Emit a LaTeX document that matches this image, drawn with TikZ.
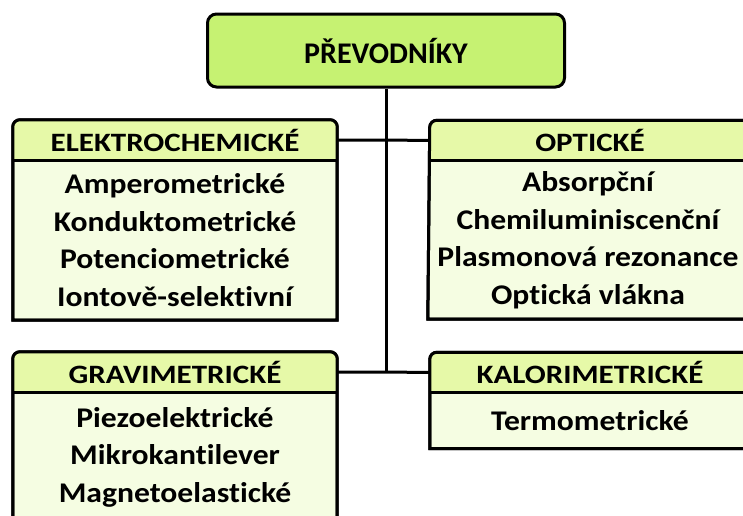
\documentclass[tikz,border=0pt]{standalone}
\usepackage{fontspec}
\setmainfont{Carlito}[RawFeature=-liga]
\newfontfamily\titlefont{Carlito}[RawFeature=-liga]
\newfontfamily\headfont{Carlito}[FakeStretch=1.17, RawFeature=-liga]
\newfontfamily\itemfont{Carlito}[FakeStretch=1.11, RawFeature=-liga]
\pgfdeclarelayer{bg}
\pgfsetlayers{bg,main}
\definecolor{rootfill}{RGB}{198,242,114}
\definecolor{headfill}{RGB}{230,249,168}
\definecolor{bodyfill}{RGB}{245,253,226}
\tikzset{
  frame/.style={draw=black, line width=3pt},
  link/.style={draw=black, line width=3pt},
  rootbox/.style={frame, fill=rootfill, rounded corners=9pt, minimum width=357pt,
    minimum height=73pt, font=\titlefont\bfseries\fontsize{30}{36}\selectfont},
  headbox/.style={inner sep=0pt, minimum height=40pt, font=\headfont\bfseries\fontsize{26.5}{31}\selectfont},
  bodybox/.style={inner sep=0pt, align=center, font=\itemfont\bfseries\fontsize{28.5}{37.5}\selectfont},
}
% frame of a category: header node #1, body node #2
\newcommand\catframe[2]{%
  \begin{pgfonlayer}{bg}
    \filldraw[frame, fill=bodyfill] (#2.south west) [rounded corners=7pt] -- (#1.north west)
      -- (#1.north east) [sharp corners] -- (#2.south east) -- cycle;
    \fill[headfill] (#1.south west) [rounded corners=7pt] -- (#1.north west)
      -- (#1.north east) [sharp corners] -- (#1.south east) -- cycle;
    \draw[frame] (#2.south west) [rounded corners=7pt] -- (#1.north west)
      -- (#1.north east) [sharp corners] -- (#2.south east) -- cycle;
    \draw[frame] (#1.south west) -- (#1.south east);
  \end{pgfonlayer}}
\begin{document}
\begin{tikzpicture}[x=1pt, y=-1pt]
\useasboundingbox (0,0) rectangle (743,515);
\clip (0,0) rectangle (743,515);

\node[rootbox] (root) at (386,50.5) {PŘEVODNÍKY};

% electrochemical
\node[headbox, minimum width=324pt] (elh) at (175,140) {ELEKTROCHEMICKÉ};
\node[bodybox, minimum width=324pt, minimum height=160pt] (elb) at (175,240)
  {Amperometrické\\Konduktometrické\\Potenciometrické\\Iontově-selektivní};
\catframe{elh}{elb}

% optical
\node[headbox, minimum width=320pt] (oph) at (590,140.5) {OPTICKÉ};
\node[bodybox, minimum width=320pt, minimum height=158pt] (opb) at (588,240)
  {Absorpční\\Chemiluminiscenční\\Plasmonová rezonance\\Optická vlákna};
\catframe{oph}{opb}

% gravimetric
\node[headbox, minimum width=324pt] (grh) at (175,372) {GRAVIMETRICKÉ};
\node[bodybox, minimum width=324pt, minimum height=130pt] (grb) at (175,457)
  {Piezoelektrické\\Mikrokantilever\\Magnetoelastické};
\catframe{grh}{grb}

% calorimetric
\node[headbox, minimum width=320pt] (kah) at (590,372.5) {KALORIMETRICKÉ};
\node[bodybox, minimum width=320pt, minimum height=56pt] (kab) at (590,420.5)
  {Termometrické};
\catframe{kah}{kab}

% connectors
\coordinate (trunk) at (root.south |- grh.east);
\begin{pgfonlayer}{bg}
  \draw[link] (root.south) -- (trunk);
  \draw[link] (elh.east) -- (root.south |- elh.east) -- (oph.west);
  \draw[link] (grh.east) -- (trunk) -- (kah.west);
\end{pgfonlayer}
\end{tikzpicture}
\end{document}
